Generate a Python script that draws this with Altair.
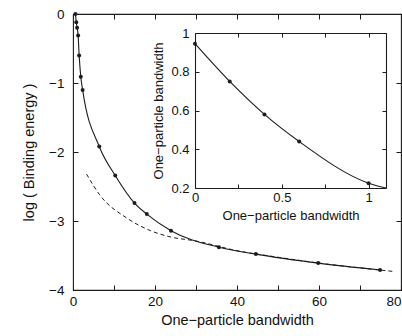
import altair as alt
import pandas as pd

# ---- data ----
main_x = [0.6, 0.8, 1.0, 1.25, 1.5, 1.9, 2.35, 6.4, 10.3, 15.0, 18.0, 23.9, 35.6, 44.6, 59.8, 74.9]
main_y = [0.0, -0.12, -0.2, -0.31, -0.6, -0.91, -1.10, -1.92, -2.34, -2.74, -2.9, -3.14, -3.38, -3.48, -3.61, -3.71]

dash_x = [3.3, 6.5, 13.2, 18.9, 23.7, 30.0, 40.0, 50.0, 60.0, 70.0, 78.0]
dash_y = [-2.32, -2.62, -2.96, -3.14, -3.23, -3.29, -3.43, -3.525, -3.61, -3.68, -3.73]

inset_pt_x = [0.0, 0.2, 0.4, 0.6, 1.0]
inset_pt_y = [0.945, 0.75, 0.58, 0.44, 0.225]
inset_curve_x = [0.0, 0.2, 0.4, 0.6, 1.0, 1.1]
inset_curve_y = [0.945, 0.75, 0.58, 0.44, 0.225, 0.2]

main_x_labels = [0, 20, 40, 60, 80]
main_x_ticks = [0, 10, 20, 30, 40, 50, 60, 70, 80]
main_y_ticks = [-4, -3, -2, -1, 0]
inset_x_labels = [0, 0.5, 1]
inset_x_ticks = [0, 0.25, 0.5, 0.75, 1]
inset_y_ticks = [0.2, 0.4, 0.6, 0.8, 1]

main_df = pd.DataFrame({"x": main_x, "y": main_y})
dash_df = pd.DataFrame({"x": dash_x, "y": dash_y})
ipt_df = pd.DataFrame({"x": inset_pt_x, "y": inset_pt_y})
icv_df = pd.DataFrame({"x": inset_curve_x, "y": inset_curve_y})

# ---- layout ----
W, H = 328, 276
LEFT, TOP = 73, 14
IN_X0, IN_X1 = 195 - LEFT, 386 - LEFT
IN_YB, IN_YT = 188 - TOP, 33 - TOP

INK = "#1c1c1c"
FONT = "Liberation Sans"

mx = alt.Scale(domain=[0, 80], nice=False, zero=False)
my = alt.Scale(domain=[-4, 0], nice=False, zero=False)
ix = alt.Scale(domain=[0, 1.1], range=[IN_X0, IN_X1], nice=False, zero=False)
iy = alt.Scale(domain=[0.2, 1], range=[IN_YB, IN_YT], nice=False, zero=False)


def tick_axis(orient, offset, values, size=5):
    return alt.Axis(orient=orient, offset=offset, values=values, tickSize=size,
                    labels=False, domain=False, title="", grid=False)


# main: labels/titles
L1 = alt.Chart(main_df).mark_line(color=INK, strokeWidth=1.1, interpolate="monotone").encode(
    x=alt.X("x:Q", scale=mx, axis=alt.Axis(orient="bottom", values=main_x_labels, tickSize=0,
            domain=False, labelPadding=4, labelFontSize=13.5, labelFlush=False,
            labelAlign=alt.condition("datum.value == 80", alt.value("right"), alt.value("center")),
            title="One−particle bandwidth", titleFontSize=14.5, titlePadding=6)),
    y=alt.Y("y:Q", scale=my, axis=alt.Axis(orient="left", values=main_y_ticks, tickSize=0,
            domain=False, labelPadding=9, labelFontSize=13.5,
            title="log ( Binding energy )", titleFontSize=14.5, titlePadding=12)),
)
# main points + inward ticks bottom/left
L2 = alt.Chart(main_df).mark_circle(color=INK, size=16, opacity=1).encode(
    x=alt.X("x:Q", scale=mx, axis=tick_axis("top", -H, main_x_ticks)),
    y=alt.Y("y:Q", scale=my, axis=tick_axis("right", -W, main_y_ticks)),
)
# dashed curve + inward ticks top/right
L3 = alt.Chart(dash_df).mark_line(color=INK, strokeWidth=1, strokeDash=[4, 3], interpolate="monotone").encode(
    x=alt.X("x:Q", scale=mx, axis=tick_axis("bottom", -H, main_x_ticks)),
    y=alt.Y("y:Q", scale=my, axis=tick_axis("left", -W, main_y_ticks)),
)

# inset
I1 = alt.Chart(icv_df).mark_line(color=INK, strokeWidth=1.1, interpolate="monotone").encode(
    x=alt.X("x:Q", scale=ix, axis=alt.Axis(orient="bottom", offset=IN_YB - H, values=inset_x_labels,
            labelExpr="'' + datum.value", tickSize=0, domain=True, labelPadding=3,
            labelFontSize=13, labelFlush=False, title="One−particle bandwidth",
            titleFontSize=13, titlePadding=5)),
    y=alt.Y("y:Q", scale=iy, axis=alt.Axis(orient="left", offset=-IN_X0, values=inset_y_ticks,
            labelExpr="'' + datum.value", tickSize=0, domain=True, labelPadding=6,
            labelFontSize=13, title="One−particle bandwidth", titleFontSize=13, titlePadding=5)),
)
I2 = alt.Chart(ipt_df).mark_circle(color=INK, size=16, opacity=1).encode(
    x=alt.X("x:Q", scale=ix, axis=tick_axis("top", -IN_YB, inset_x_ticks, 4)),
    y=alt.Y("y:Q", scale=iy, axis=tick_axis("right", -(W - IN_X0), inset_y_ticks, 4)),
)
I3 = alt.Chart(ipt_df).mark_circle(color=INK, size=16, opacity=0).encode(
    x=alt.X("x:Q", scale=ix, axis=alt.Axis(orient="bottom", offset=IN_YT - H, values=inset_x_ticks,
            tickSize=4, labels=False, domain=True, title="", grid=False)),
    y=alt.Y("y:Q", scale=iy, axis=alt.Axis(orient="left", offset=-IN_X1, values=inset_y_ticks,
            tickSize=4, labels=False, domain=True, title="", grid=False)),
)

chart = alt.layer(L1, L2, L3, I1, I2, I3).resolve_scale(
    x="independent", y="independent"
).properties(
    width=W, height=H,
    autosize=alt.AutoSizeParams(type="none"),
    padding={"left": LEFT, "top": TOP, "right": 402 - LEFT - W, "bottom": 336 - TOP - H},
).configure_view(
    stroke=INK, strokeWidth=1.1
).configure_axis(
    grid=False, labelFont=FONT, titleFont=FONT, labelColor="#111", titleColor="#111",
    tickColor=INK, domainColor=INK, tickWidth=1, domainWidth=1.1, titleFontWeight="normal"
)

chart.save("out.html", embed_options={"renderer": "svg", "actions": False})
